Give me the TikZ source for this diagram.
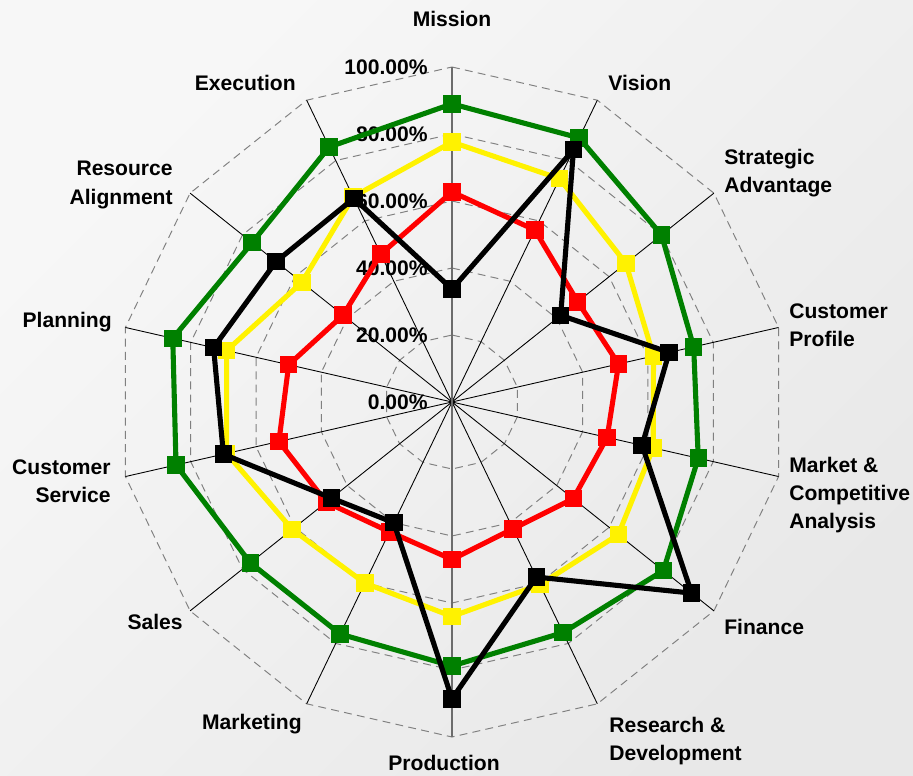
\documentclass[tikz,border=0pt]{standalone}
\usepackage{fontspec}
\setmainfont{Liberation Sans}
\usepackage{tikz}

\begin{document}
\begin{tikzpicture}[x=0.02cm,y=0.02cm,
    lbl/.style={font=\bfseries\fontsize{12}{16}\selectfont,inner sep=0pt},
    spoke/.style={black,line width=0.5pt},
    valaxis/.style={gray!85!black,line width=1pt},
    ring/.style={gray,line width=0.55pt,dash pattern=on 4.5pt off 3pt},
    mk/.style={rectangle,minimum size=0.35cm,inner sep=0pt},
    grnline/.style={green!50!black,line width=2.9pt,line join=round},
    yelline/.style={yellow,line width=2.9pt,line join=round},
    redline/.style={red,line width=2.9pt,line join=round},
    blkline/.style={black,line width=2.9pt,line join=round}]
      % background
      \useasboundingbox (-452,-373) rectangle (461,402);
      \shade[top color=gray!6,middle color=gray!50,bottom color=gray!18,shading angle=45] (-452,-373) rectangle (461,402);
      % grid rings and spokes
      \coordinate (o) at (0,0);
      \foreach \r in {67,134,201,268,335}
        \draw[ring] (90:\r) \foreach \i in {1,...,13} {-- ({90-\i*360/14}:\r)} -- cycle;
      \foreach \i in {1,...,14}
        \coordinate (ax\i) at ({90-(\i-1)*360/14}:335);
      \foreach \i in {2,...,7,9,10,11,12,13,14}
        \draw[spoke] (o) -- (ax\i);
      \draw[valaxis] (ax8) -- (ax1);
      % percent labels
      \foreach \p [count=\k from 0] in {0.00,20.00,40.00,60.00,80.00,100.00}
        \node[lbl,anchor=east] (pct\k) at (-24,\k*67) {\p\%};
      % category labels
      \node[lbl] (mission) at (0,383) {Mission};
      \node[lbl,anchor=west] (vision) at (156,319) {Vision};
      \node[lbl,anchor=west,align=left] (strategic) at (272,229) {Strategic\\Advantage};
      \node[lbl,anchor=west,align=left] (custprofile) at (337,77) {Customer\\Profile};
      \node[lbl,anchor=west,align=left] (market) at (337,-93) {Market \&\\Competitive\\Analysis};
      \node[lbl,anchor=west] (finance) at (272,-225) {Finance};
      \node[lbl,anchor=west,align=left] (research) at (157,-339) {Research \&\\Development};
      \node[lbl] (production) at (-8,-361) {Production};
      \node[lbl,anchor=east] (marketing) at (-150,-322) {Marketing};
      \node[lbl,anchor=east] (sales) at (-269,-220) {Sales};
      \node[lbl,anchor=east,align=right] (custservice) at (-341,-79) {Customer\\Service};
      \node[lbl,anchor=east] (planning) at (-340,80) {Planning};
      \node[lbl,anchor=east,align=right] (resource) at (-279,217) {Resource\\Alignment};
      \node[lbl,anchor=east] (execution) at (-156,319) {Execution};
      % green series
      \foreach \v [count=\i] in {.89,.875,.80,.74,.754,.807,.764,.788,.769,.77,.845,.855,.763,.845}
        \coordinate (g\i) at ({90-(\i-1)*360/14}:{\v*335});
      \draw[grnline] (g1) \foreach \i in {2,...,14} {-- (g\i)} -- cycle;
      \foreach \i in {1,...,14}
        \node[mk,fill=green!50!black] (gm\i) at (g\i) {};
      % yellow series
      \foreach \v [count=\i] in {.776,.74,.664,.617,.616,.635,.605,.64,.60,.61,.69,.69,.573,.68}
        \coordinate (y\i) at ({90-(\i-1)*360/14}:{\v*335});
      \draw[yelline] (y1) \foreach \i in {2,...,14} {-- (y\i)} -- cycle;
      \foreach \i in {1,...,14}
        \node[mk,fill=yellow] (ym\i) at (y\i) {};
      % red series
      \foreach \v [count=\i] in {.627,.57,.48,.51,.475,.463,.42,.47,.43,.48,.53,.50,.416,.49}
        \coordinate (r\i) at ({90-(\i-1)*360/14}:{\v*335});
      \draw[redline] (r1) \foreach \i in {2,...,14} {-- (r\i)} -- cycle;
      \foreach \i in {1,...,14}
        \node[mk,fill=red] (rm\i) at (r\i) {};
      % black series
      \foreach \v [count=\i] in {.337,.836,.415,.665,.582,.915,.58,.886,.40,.46,.70,.73,.672,.675}
        \coordinate (b\i) at ({90-(\i-1)*360/14}:{\v*335});
      \draw[blkline] (b1) \foreach \i in {2,...,14} {-- (b\i)} -- cycle;
      \foreach \i in {1,...,14}
        \node[mk,fill=black] (bm\i) at (b\i) {};
    \end{tikzpicture}
\end{document}
